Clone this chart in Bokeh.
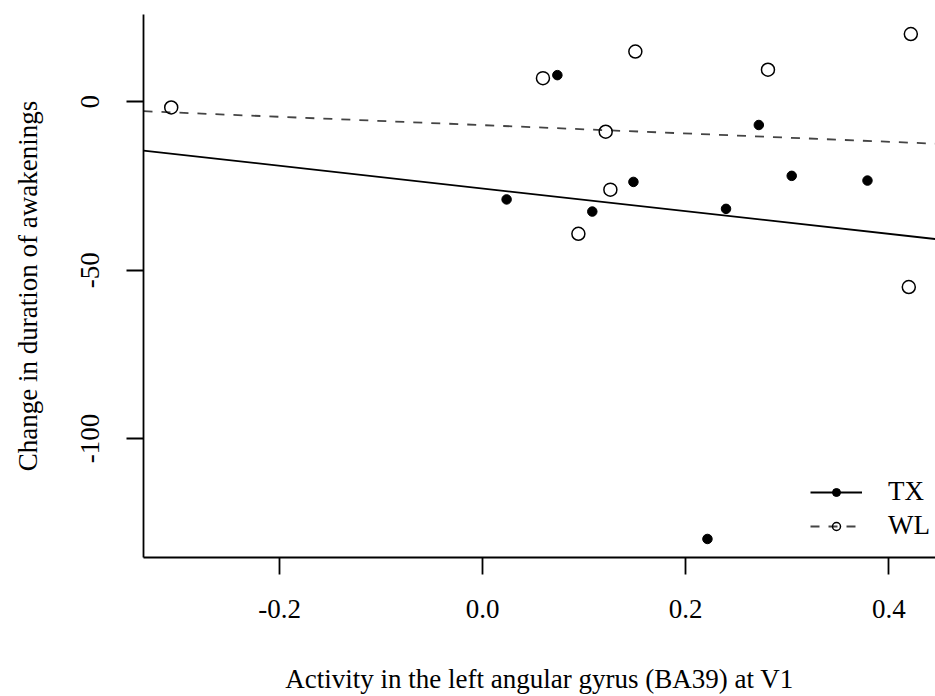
import numpy as np
from bokeh.plotting import figure
from bokeh.models import Legend, LegendItem, FixedTicker, Range1d
from bokeh.embed import file_html
from bokeh.resources import INLINE

# --- data ---
tx_x = [0.0736, 0.272, 0.1485, 0.3044, 0.379, 0.0236, 0.108, 0.2397, 0.2214]
tx_y = [7.9, -6.9, -23.8, -22.0, -23.4, -29.0, -32.6, -31.8, -129.8]
wl_x = [0.0594, 0.1504, 0.281, 0.4217, 0.1212, 0.1258, 0.0943, 0.4197, -0.3067]
wl_y = [7.0, 14.9, 9.5, 20.1, -8.9, -26.1, -39.2, -55.0, -1.7]
x_ticks = [-0.2, 0.0, 0.2, 0.4]
x_tick_labels = ["-0.2", "0.0", "0.2", "0.4"]
y_ticks = [0, -50, -100]
y_tick_labels = ["0", "-50", "-100"]
x_lim = (-0.334, 0.446)
y_lim = (-135.3, 25.9)

FONT = "Liberation Serif"
FS = "27px"

p = figure(width=935, height=696, output_backend="svg", toolbar_location=None,
           x_range=Range1d(*x_lim), y_range=Range1d(*y_lim),
           min_border_left=143, min_border_right=0, min_border_top=14,
           min_border_bottom=137)
p.outline_line_color = None
p.grid.visible = False
p.background_fill_color = "white"
p.border_fill_color = "white"

# regression lines (OLS fitted to each group, drawn across the full x range)
xs_line = [x_lim[0], x_lim[1]]
b_tx, a_tx = np.polyfit(tx_x, tx_y, 1)
b_wl, a_wl = np.polyfit(wl_x, wl_y, 1)
r_tx_line = p.line(xs_line, [a_tx + b_tx * v for v in xs_line],
                   line_color="black", line_width=1.8)
r_wl_line = p.line(xs_line, [a_wl + b_wl * v for v in xs_line],
                   line_color="#444444", line_width=1.8, line_dash="9 9")

r_tx_pts = p.scatter(tx_x, tx_y, marker="circle", size=9.5,
                     fill_color="black", line_color="black")
r_wl_pts = p.scatter(wl_x, wl_y, marker="circle", size=13, fill_alpha=0,
                     line_color="black", line_width=1.5)

# axes
for ax in (p.xaxis[0], p.yaxis[0]):
    ax.axis_line_width = 1.8
    ax.axis_line_color = "black"
    ax.major_tick_line_width = 1.8
    ax.major_tick_line_color = "black"
    ax.major_tick_out = 17
    ax.major_tick_in = 0
    ax.minor_tick_out = 0
    ax.minor_tick_in = 0
    ax.major_label_text_font = FONT
    ax.major_label_text_font_size = FS
    ax.major_label_text_color = "black"
    ax.axis_label_text_font = FONT
    ax.axis_label_text_font_size = FS
    ax.axis_label_text_font_style = "normal"
    ax.axis_label_text_color = "black"

p.xaxis[0].ticker = FixedTicker(ticks=x_ticks)
p.xaxis[0].major_label_overrides = {t: l for t, l in zip(x_ticks, x_tick_labels)}
p.xaxis[0].axis_label = "Activity in the left angular gyrus (BA39) at V1"
p.xaxis[0].major_label_standoff = 25
p.xaxis[0].axis_label_standoff = 43

p.yaxis[0].ticker = FixedTicker(ticks=y_ticks)
p.yaxis[0].major_label_overrides = {t: l for t, l in zip(y_ticks, y_tick_labels)}
p.yaxis[0].axis_label = "Change in duration of awakenings"
p.yaxis[0].major_label_orientation = "vertical"
p.yaxis[0].major_label_standoff = 27
p.yaxis[0].axis_label_standoff = 36

legend = Legend(items=[
    LegendItem(label="TX", renderers=[r_tx_line, r_tx_pts]),
    LegendItem(label="WL", renderers=[r_wl_line, r_wl_pts]),
], location=(667, 16))
legend.border_line_alpha = 0
legend.background_fill_alpha = 0
legend.margin = 0
legend.padding = 0
legend.glyph_width = 52
legend.glyph_height = 20
legend.label_height = 20
legend.spacing = 3
legend.label_standoff = 26
legend.label_text_font = FONT
legend.label_text_font_size = FS
legend.label_text_color = "black"
p.add_layout(legend, "center")

open("out.html", "w").write(file_html(p, INLINE))
